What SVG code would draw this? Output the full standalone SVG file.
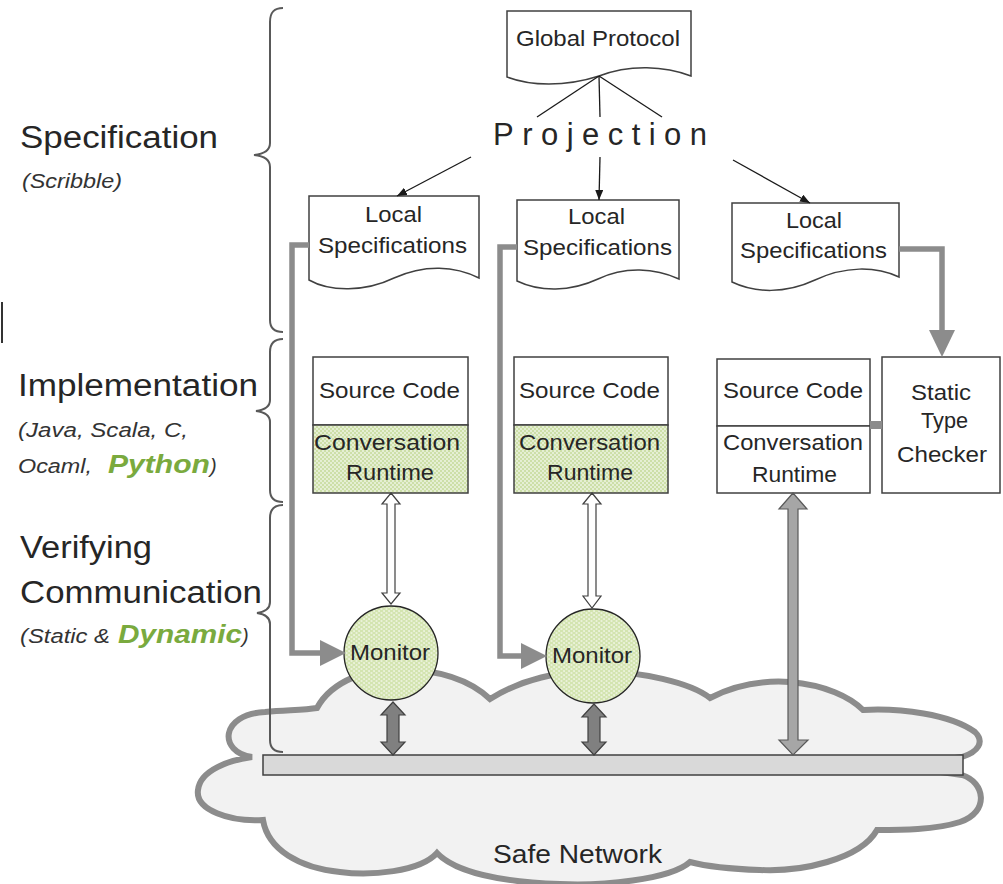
<svg xmlns="http://www.w3.org/2000/svg" width="1003" height="884" viewBox="0 0 1003 884">
<style>
text{font-family:"Liberation Sans",Arial,sans-serif;fill:#262626}
.big{font-size:31px}
.sub{font-size:20px;font-style:italic;fill:#333}
.grn{font-size:26px;font-style:italic;font-weight:bold;fill:#7aaa3e}
.nd{font-size:22.5px}
.doc{fill:#fff;stroke:#404040;stroke-width:1.5}
.box{fill:#fff;stroke:#404040;stroke-width:1.5}
.gbox{fill:url(#hatch);stroke:#404040;stroke-width:1.5}
.brace{fill:none;stroke:#595959;stroke-width:2}
.thin{fill:none;stroke:#1a1a1a;stroke-width:1.3}
.thick{fill:none;stroke:#8c8c8c;stroke-width:5.5}
.ghead{fill:#8c8c8c}
.hollow{fill:#fff;stroke:#404040;stroke-width:1.2}
.dark{fill:#808080;stroke:#404040;stroke-width:1.2}
.light{fill:#a6a6a6;stroke:#595959;stroke-width:1.2}
</style>
<defs>
<pattern id="hatch" width="4" height="4" patternUnits="userSpaceOnUse">
<rect width="4" height="4" fill="#cddfa8"/>
<circle cx="1" cy="1" r="0.9" fill="#f2f7e8"/>
<circle cx="3" cy="3" r="0.9" fill="#f2f7e8"/>
</pattern>
<pattern id="dots" width="5" height="4" patternUnits="userSpaceOnUse">
<rect width="5" height="4" fill="#d3e4b0"/>
<ellipse cx="1.5" cy="1" rx="1.2" ry="0.7" fill="#f4f8ea"/>
<ellipse cx="4" cy="3" rx="1.2" ry="0.7" fill="#f4f8ea"/>
</pattern>
<marker id="ah" markerWidth="10" markerHeight="8" refX="10" refY="4" orient="auto" markerUnits="userSpaceOnUse">
<path d="M0,0 L10,4 L0,8 Z" fill="#1a1a1a"/>
</marker>
</defs>

<rect width="1003" height="884" fill="#fff"/>

<!-- cloud -->
<g id="cloud">
<path d="M252,757 C218,752 220,714 265,712 C290,710 305,710 317,708 C332,680 370,668 400,669 C440,670 470,680 490,699 C520,680 560,670 600,671 C640,672 690,682 710,698 C735,685 760,680 790,682 C825,685 850,697 863,710 C900,708 950,714 975,732 C985,742 978,752 962,757 L940,760 L940,772 L962,775 C985,782 990,812 960,822 C935,830 900,830 877,830 C860,860 800,872 760,870 C730,869 705,866 690,862 C670,880 600,886 560,884 C500,882 455,872 437,853 C420,872 370,876 340,872 C300,868 268,850 263,820 C230,822 195,810 198,790 C200,770 230,760 252,757 Z" fill="#f2f2f2" stroke="#8c8c8c" stroke-width="6"/>
<text x="493" y="863" font-size="26" textLength="169" lengthAdjust="spacingAndGlyphs">Safe Network</text>
</g>

<g id="bus">
<rect x="263" y="755" width="700" height="20" fill="#d9d9d9" stroke="#404040" stroke-width="1.5"/>
</g>

<!-- braces and layer labels -->
<g id="layers">
<path class="brace" d="M283,8 C274,8 270,12 270,22 L270,143 C270,150 264,154 254,155 C264,156 270,160 270,167 L270,320 C270,328 274,332 283,332"/>
<path class="brace" d="M283,339 C274,339 270,343 270,352 L270,400 C270,407 264,410 256,411 C264,412 270,415 270,422 L270,490 C270,498 274,502 283,502"/>
<path class="brace" d="M283,505 C274,505 270,509 270,518 L270,602 C270,609 264,612 257,613 C264,614 270,617 270,624 L270,740 C270,748 274,752 283,752"/>
<line x1="2" y1="302" x2="2" y2="343" stroke="#333" stroke-width="2"/>
<text class="big" x="20" y="148" textLength="198" lengthAdjust="spacingAndGlyphs">Specification</text>
<text class="sub" x="22" y="188" textLength="100" lengthAdjust="spacingAndGlyphs">(Scribble)</text>
<text class="big" x="18" y="396" textLength="240" lengthAdjust="spacingAndGlyphs">Implementation</text>
<text class="sub" x="18" y="437" textLength="170" lengthAdjust="spacingAndGlyphs">(Java, Scala, C,</text>
<text class="sub" x="18" y="473" textLength="74" lengthAdjust="spacingAndGlyphs">Ocaml,</text>
<text class="grn" x="108" y="473" textLength="102" lengthAdjust="spacingAndGlyphs">Python</text>
<text class="sub" x="210" y="473">)</text>
<text class="big" x="20" y="558" textLength="132" lengthAdjust="spacingAndGlyphs">Verifying</text>
<text class="big" x="20" y="603" textLength="242" lengthAdjust="spacingAndGlyphs">Communication</text>
<text class="sub" x="20" y="643" textLength="90" lengthAdjust="spacingAndGlyphs">(Static &amp;</text>
<text class="grn" x="118" y="643" textLength="124" lengthAdjust="spacingAndGlyphs">Dynamic</text>
<text class="sub" x="242" y="643">)</text>
</g>

<!-- nodes -->
<g id="global-protocol">
<path class="doc" d="M507,11 H691 V76 C665,66 630,64 599,76 C565,87 530,86 507,77 Z"/>
<text class="nd" x="516" y="46" textLength="164" lengthAdjust="spacingAndGlyphs">Global Protocol</text>
</g>
<g id="projection">
<text x="493" y="145" font-size="31" textLength="214" lengthAdjust="spacing">Projection</text>
</g>
<g id="local-spec-1">
<path class="doc" d="M309,196 H479 V278 C455,266 425,264 394,278 C365,292 330,292 309,280 Z"/>
<text class="nd" x="365" y="222" textLength="57" lengthAdjust="spacingAndGlyphs">Local</text>
<text class="nd" x="318" y="253" textLength="149" lengthAdjust="spacingAndGlyphs">Specifications</text>
</g>
<g id="local-spec-2">
<path class="doc" d="M517,200 H679 V279 C655,268 625,266 598,279 C570,292 540,292 517,281 Z"/>
<text class="nd" x="568" y="224" textLength="57" lengthAdjust="spacingAndGlyphs">Local</text>
<text class="nd" x="523" y="255" textLength="149" lengthAdjust="spacingAndGlyphs">Specifications</text>
</g>
<g id="local-spec-3">
<path class="doc" d="M732,203 H899 V277 C875,266 845,266 815,280 C785,294 755,293 732,282 Z"/>
<text class="nd" x="786" y="228" textLength="56" lengthAdjust="spacingAndGlyphs">Local</text>
<text class="nd" x="740" y="258" textLength="147" lengthAdjust="spacingAndGlyphs">Specifications</text>
</g>
<g id="impl-1">
<rect class="box" x="313" y="357" width="155" height="68"/>
<rect class="gbox" x="313" y="425" width="155" height="68"/>
<text class="nd" x="319" y="398" textLength="141" lengthAdjust="spacingAndGlyphs">Source Code</text>
<text class="nd" x="314" y="450" textLength="146" lengthAdjust="spacingAndGlyphs">Conversation</text>
<text class="nd" x="346" y="480" textLength="88" lengthAdjust="spacingAndGlyphs">Runtime</text>
</g>
<g id="impl-2">
<rect class="box" x="514" y="357" width="154" height="68"/>
<rect class="gbox" x="514" y="425" width="154" height="68"/>
<text class="nd" x="519" y="398" textLength="141" lengthAdjust="spacingAndGlyphs">Source Code</text>
<text class="nd" x="519" y="450" textLength="141" lengthAdjust="spacingAndGlyphs">Conversation</text>
<text class="nd" x="547" y="480" textLength="86" lengthAdjust="spacingAndGlyphs">Runtime</text>
</g>
<g id="impl-3">
<rect class="box" x="717" y="359" width="153" height="67"/>
<rect class="box" x="717" y="426" width="153" height="67"/>
<text class="nd" x="723" y="398" textLength="140" lengthAdjust="spacingAndGlyphs">Source Code</text>
<text class="nd" x="723" y="450" textLength="140" lengthAdjust="spacingAndGlyphs">Conversation</text>
<text class="nd" x="752" y="482" textLength="85" lengthAdjust="spacingAndGlyphs">Runtime</text>
</g>
<g id="static-type-checker">
<rect class="box" x="882" y="357" width="118" height="136"/>
<text class="nd" x="911" y="400" textLength="60" lengthAdjust="spacingAndGlyphs">Static</text>
<text class="nd" x="921" y="428" textLength="47" lengthAdjust="spacingAndGlyphs">Type</text>
<text class="nd" x="897" y="462" textLength="90" lengthAdjust="spacingAndGlyphs">Checker</text>
</g>
<g id="monitor-1">
<circle cx="391" cy="653" r="47" fill="url(#dots)" stroke="#262626" stroke-width="1.3"/>
<text class="nd" x="350" y="660" font-size="23" textLength="80" lengthAdjust="spacingAndGlyphs">Monitor</text>
</g>
<g id="monitor-2">
<circle cx="593" cy="656" r="47" fill="url(#dots)" stroke="#262626" stroke-width="1.3"/>
<text class="nd" x="552" y="663" font-size="23" textLength="80" lengthAdjust="spacingAndGlyphs">Monitor</text>
</g>

<!-- connectors -->
<g id="connectors">
<line class="thin" x1="599" y1="76" x2="537" y2="117"/>
<line class="thin" x1="599" y1="76" x2="600" y2="117"/>
<line class="thin" x1="599" y1="76" x2="662" y2="117"/>
<line class="thin" x1="471" y1="157" x2="397" y2="196" marker-end="url(#ah)"/>
<line class="thin" x1="600" y1="157" x2="599" y2="200" marker-end="url(#ah)"/>
<line class="thin" x1="733" y1="160" x2="810" y2="203" marker-end="url(#ah)"/>

<path class="thick" d="M309,245 H292 V653 H322"/>
<polygon class="ghead" points="320,640 346,653 320,666"/>
<path class="thick" d="M517,247 H500 V656 H523"/>
<polygon class="ghead" points="521,643 547,656 521,669"/>
<path class="thick" d="M899,249 H942 V332"/>
<polygon class="ghead" points="929,330 955,330 942,357"/>
<line x1="870" y1="425" x2="882" y2="425" stroke="#8c8c8c" stroke-width="8"/>

<polygon class="hollow" points="391,493 400,504 395,504 395,593 400,593 391,604 382,593 387,593 387,504 382,504"/>
<polygon class="hollow" points="592,493 601,504 596,504 596,596 601,596 592,608 583,596 588,596 588,504 583,504"/>

<polygon class="dark" points="393,702 405,715 399,715 399,742 405,742 393,755 381,742 387,742 387,715 381,715"/>
<polygon class="dark" points="594,704 606,717 600,717 600,742 606,742 594,755 582,742 588,742 588,717 582,717"/>

<polygon class="light" points="793,493 807,509 798,509 798,740 808,740 793,755 779,740 788,740 788,509 779,509"/>
</g>
</svg>
